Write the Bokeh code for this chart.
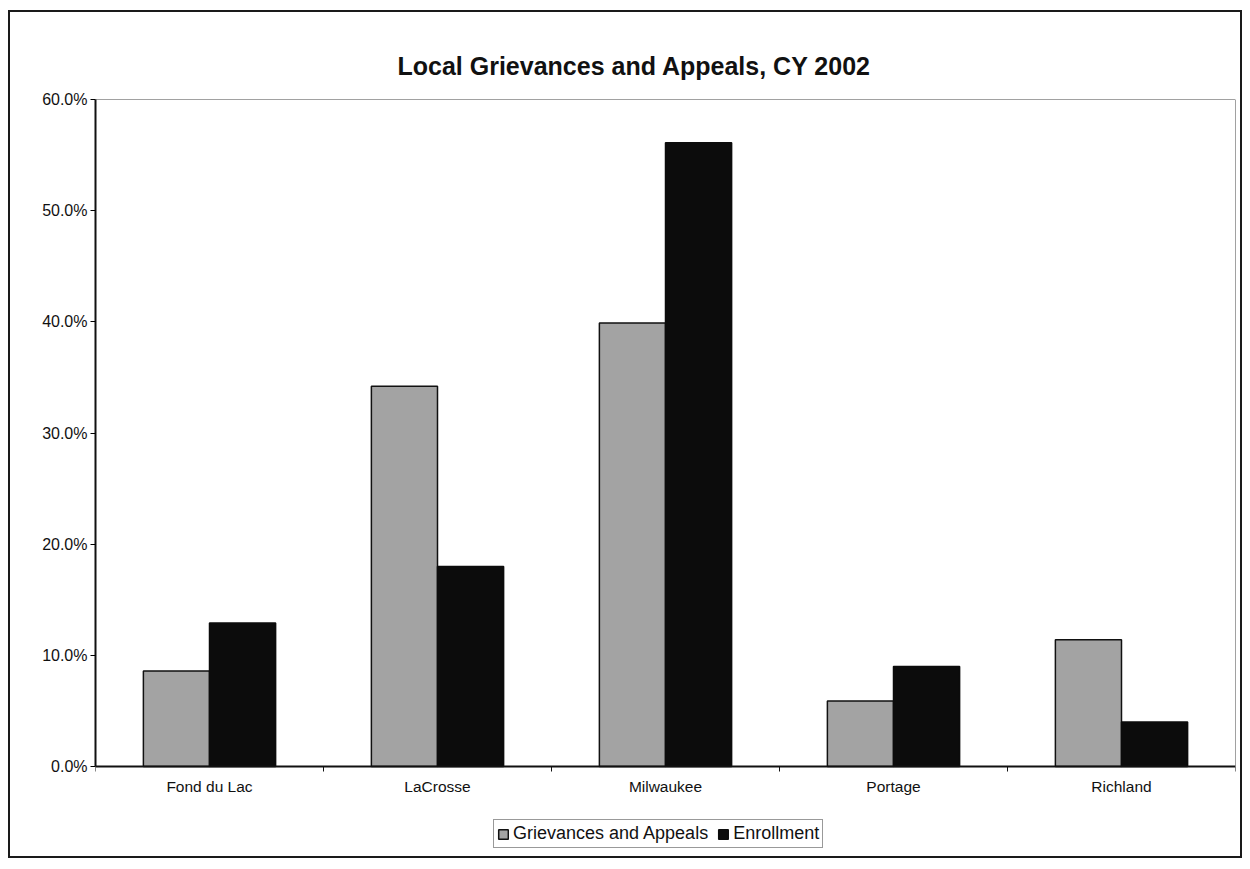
from bokeh.plotting import figure
from bokeh.models import (Range1d, FixedTicker, PrintfTickFormatter,
                          Legend, LegendItem, ColumnDataSource)
from bokeh.embed import file_html
from bokeh.resources import INLINE

# Share of local grievances/appeals and of enrollment by county, CY 2002 (percent)
counties = ["Fond du Lac", "LaCrosse", "Milwaukee", "Portage", "Richland"]
grievances = [8.6, 34.2, 39.9, 5.9, 11.4]
enrollment = [12.9, 18.0, 56.1, 9.0, 4.0]
y_ticks = [0, 10, 20, 30, 40, 50, 60]

FONT = "Liberation Sans"
bar_w = 0.29

# The frame runs down to the bottom of the chart so that the legend can sit
# inside it; the value axis covers the upper 667 px, the lower 86 px hold
# the category labels and the legend.
Y_MAX = y_ticks[-1]
VALUE_PX, FOOT_PX = 667, 86
y_start = -Y_MAX * FOOT_PX / VALUE_PX

slots = [i + 0.5 for i in range(len(counties))]
src = ColumnDataSource(dict(
    county=counties,
    x_g=[s - bar_w / 2 for s in slots],
    x_e=[s + bar_w / 2 for s in slots],
    grievances=grievances,
    enrollment=enrollment,
))

p = figure(width=1230, height=844,
           x_range=Range1d(0, len(counties)), y_range=Range1d(y_start, Y_MAX),
           output_backend="svg", toolbar_location=None,
           min_border_left=85, min_border_right=5,
           min_border_top=87, min_border_bottom=4)
p.margin = (12, 0, 0, 10)
p.styles = {"outline": "2px solid #1a1a1a"}
p.background_fill_color = "white"
p.border_fill_color = "white"
p.outline_line_color = None
p.grid.visible = False

# Title
p.title.text = "Local Grievances and Appeals, CY 2002"
p.title.align = "left"
p.title.offset = 302
p.title.text_font = FONT
p.title.text_font_size = "25px"
p.title.text_font_style = "bold"
p.title.text_color = "#111111"
p.title.standoff = 40

# Plot-area border (top and right edges)
p.segment(x0=[0, len(counties)], y0=[Y_MAX, 0],
          x1=[len(counties), len(counties)], y1=[Y_MAX, Y_MAX],
          line_color="#444444", line_width=1)

g = p.vbar(x="x_g", top="grievances", width=bar_w, source=src,
           fill_color="#a3a3a3", line_color="#111111", line_width=1.5)
e = p.vbar(x="x_e", top="enrollment", width=bar_w, source=src,
           fill_color="#0c0c0c", line_color="#0c0c0c", line_width=1.5)

# Y axis
yax = p.yaxis[0]
yax.ticker = FixedTicker(ticks=y_ticks)
yax.bounds = (0, Y_MAX)
yax.formatter = PrintfTickFormatter(format="%.1f%%")
yax.axis_line_width = 2
yax.axis_line_color = "#111111"
yax.major_tick_in = 0
yax.major_tick_out = 5
yax.minor_tick_line_color = None
yax.major_label_text_font = FONT
yax.major_label_text_font_size = "16px"
yax.major_label_text_color = "#111111"
yax.major_label_standoff = 3

# X axis at y = 0: labels at slot centres, tick marks between slots
xax = p.xaxis[0]
xax.fixed_location = 0
xax.ticker = FixedTicker(ticks=slots, minor_ticks=list(range(len(counties) + 1)))
xax.major_label_overrides = {s: c for s, c in zip(slots, counties)}
xax.axis_line_width = 2
xax.axis_line_color = "#111111"
xax.major_tick_line_color = None
xax.minor_tick_in = 0
xax.minor_tick_out = 5
xax.minor_tick_line_color = "#111111"
xax.major_label_text_font = FONT
xax.major_label_text_font_size = "15.5px"
xax.major_label_text_color = "#111111"
xax.major_label_standoff = 5

legend = Legend(items=[LegendItem(label="Grievances and Appeals", renderers=[g]),
                       LegendItem(label="Enrollment", renderers=[e])],
                orientation="horizontal", location=(398, 4),
                border_line_color="#333333", border_line_width=1,
                padding=3, spacing=9, margin=0,
                glyph_width=12, glyph_height=12, label_standoff=4,
                label_height=19,
                label_text_font=FONT, label_text_font_size="18px",
                label_text_color="#111111")
p.add_layout(legend)

open("out.html", "w").write(file_html(p, INLINE))
